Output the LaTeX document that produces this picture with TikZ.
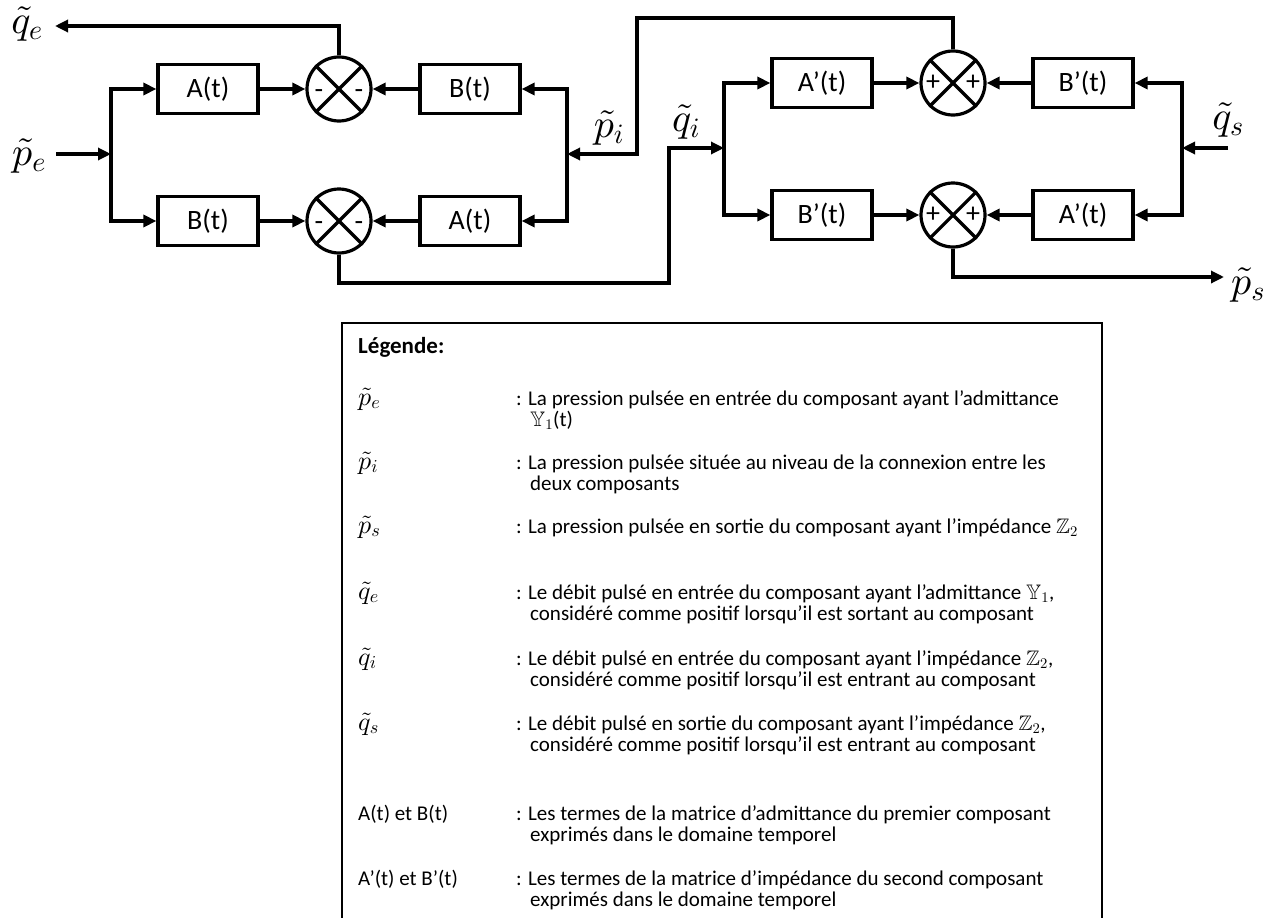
\documentclass[tikz,border=0pt]{standalone}
\usepackage{amsmath}
\usepackage{amssymb}
\usepackage[no-math]{fontspec}
\setmainfont{Carlito}
\DeclareFontShape{OML}{cmm}{m}{it}{<->cmmi10}{\skewchar\font'177}
\DeclareFontShape{OMS}{cmsy}{m}{n}{<->cmsy10}{\skewchar\font'60}
\DeclareFontShape{OT1}{cmr}{m}{n}{<->cmr10}{}
\usepackage{tikz}
\usetikzlibrary{arrows.meta}
\newcommand{\boxfont}{\fontsize{28}{32}\selectfont}
\newcommand{\sigfont}{\fontsize{40}{44}\selectfont}
\newcommand{\legendfont}{\fontsize{21}{21}\selectfont}
\newcommand{\legendsym}{\fontsize{26}{26}\selectfont}
\newcommand{\legendhead}{\fontsize{23}{26}\selectfont\bfseries}
\tikzset{
  wire/.style={line width=3.2pt, line join=miter},
  flow/.style={wire, -{Triangle[length=13pt,width=12pt]}},
  gain box/.style={draw, line width=3.2pt, minimum width=100pt,
    minimum height=49pt, inner sep=0pt, font=\boxfont},
  sum node/.style={circle, draw, line width=3.2pt, minimum size=64pt,
    inner sep=0pt},
  sign/.style={font=\boxfont, inner sep=0pt},
  minus sign/.style={sign, yshift=-5pt},
  signal label/.style={font=\sigfont, inner sep=2pt},
  legend frame/.style={line width=1.8pt},
  legend text/.style={anchor=base west, align=left, font=\legendfont,
    inner sep=0pt},
  legend symbol/.style={legend text, font=\legendsym}
}

\begin{document}
\begin{tikzpicture}[x=1pt, y=-1pt]
  \useasboundingbox (0,0) rectangle (1280,918);
  % first component (admittance)
  \node[gain box] (A1) at (208,89) {A(t)};
  \node[gain box] (B1) at (470,89) {B(t)};
  \node[gain box] (B2) at (208,221) {B(t)};
  \node[gain box] (A2) at (470,221) {A(t)};
  \node[sum node] (S1) at (339,89) {};
  \node[sum node] (S2) at (339,221) {};
  % second component (impedance)
  \node[gain box] (A3) at (822,83) {A’(t)};
  \node[gain box] (B3) at (1083,83) {B’(t)};
  \node[gain box] (B4) at (822,215) {B’(t)};
  \node[gain box] (A4) at (1083,215) {A’(t)};
  \node[sum node] (S3) at (953,83) {};
  \node[sum node] (S4) at (953,215) {};
  \foreach \s in {S1,S2,S3,S4} {
    \draw[wire] (\s.north west) -- (\s.south east);
    \draw[wire] (\s.north east) -- (\s.south west);
  }
  \node[minus sign, xshift=-20pt] at (S1) {-}; \node[minus sign, xshift=20pt] at (S1) {-};
  \node[minus sign, xshift=-20pt] at (S2) {-}; \node[minus sign, xshift=20pt] at (S2) {-};
  \node[sign, xshift=-20pt] at (S3) {+}; \node[sign, xshift=20pt] at (S3) {+};
  \node[sign, xshift=-20pt] at (S4) {+}; \node[sign, xshift=20pt] at (S4) {+};
  % signals
  \node[signal label] (qe) at (27,24) {$\tilde{q}_e$};
  \node[signal label] (pe) at (29,156) {$\tilde{p}_e$};
  \node[signal label] (pi) at (609,128) {$\tilde{p}_i$};
  \node[signal label] (qi) at (686,122) {$\tilde{q}_i$};
  \node[signal label] (qs) at (1228,120) {$\tilde{q}_s$};
  \node[signal label] (ps) at (1248,285) {$\tilde{p}_s$};
  \coordinate (qeout) at (55,26);
  \coordinate (pein) at (56,154);
  \coordinate (jL) at (111,154);
  \coordinate (jR) at (567,154);
  \coordinate (kp) at (637,18);
  \coordinate (kq) at (669,283);
  \coordinate (jRR) at (724,148);
  \coordinate (jS) at (1182,148);
  \coordinate (qsin) at (1228,148);
  \coordinate (psout) at (1224,277);
  \draw[flow] (pein) -- (jL);
  \draw[flow] (jL) |- (A1); \draw[flow] (jL) |- (B2);
  \draw[flow] (A1) -- (S1); \draw[flow] (B2) -- (S2);
  \draw[flow] (B1) -- (S1); \draw[flow] (A2) -- (S2);
  \draw[flow] (jR) |- (B1); \draw[flow] (jR) |- (A2);
  \draw[flow] (S1.north) |- (qeout);
  \draw[flow] (S3.north) |- (kp) |- (jR);
  \draw[flow] (S2.south) |- (kq) |- (jRR);
  \draw[flow] (jRR) |- (A3); \draw[flow] (jRR) |- (B4);
  \draw[flow] (A3) -- (S3); \draw[flow] (B4) -- (S4);
  \draw[flow] (B3) -- (S3); \draw[flow] (A4) -- (S4);
  \draw[flow] (qsin) -- (jS);
  \draw[flow] (jS) |- (B3); \draw[flow] (jS) |- (A4);
  \draw[flow] (S4.south) |- (psout);
  % legend (two-line entries sit on their last baseline)
  \draw[legend frame] (342,930) -- (342,323) -- (1102,323) -- (1102,930);
  \node[legend text, font=\legendhead] (lghead) at (358,353) {Légende:};
  \node[legend symbol] (lsym1) at (358,405) {$\tilde{p}_e$};
  \node[legend text] (ltxt1) at (516,426)
    {: La pression pulsée en entrée du composant ayant l’admittance\\
     \hspace*{14pt}$\mathbb{Y}_1$(t)};
  \node[legend symbol] (lsym2) at (358,469) {$\tilde{p}_i$};
  \node[legend text] (ltxt2) at (516,490)
    {: La pression pulsée située au niveau de la connexion entre les\\
     \hspace*{14pt}deux composants};
  \node[legend symbol] (lsym3) at (358,533) {$\tilde{p}_s$};
  \node[legend text] (ltxt3) at (516,533)
    {: La pression pulsée en sortie du composant ayant l’impédance $\mathbb{Z}_2$};
  \node[legend symbol] (lsym4) at (358,599) {$\tilde{q}_e$};
  \node[legend text] (ltxt4) at (516,620)
    {: Le débit pulsé en entrée du composant ayant l’admittance $\mathbb{Y}_1$,\\
     \hspace*{14pt}considéré comme positif lorsqu’il est sortant au composant};
  \node[legend symbol] (lsym5) at (358,665) {$\tilde{q}_i$};
  \node[legend text] (ltxt5) at (516,686)
    {: Le débit pulsé en entrée du composant ayant l’impédance $\mathbb{Z}_2$,\\
     \hspace*{14pt}considéré comme positif lorsqu’il est entrant au composant};
  \node[legend symbol] (lsym6) at (358,730) {$\tilde{q}_s$};
  \node[legend text] (ltxt6) at (516,751)
    {: Le débit pulsé en sortie du composant ayant l’impédance $\mathbb{Z}_2$,\\
     \hspace*{14pt}considéré comme positif lorsqu’il est entrant au composant};
  \node[legend text] (lsym7) at (358,820) {A(t) et B(t)};
  \node[legend text] (ltxt7) at (516,841)
    {: Les termes de la matrice d’admittance du premier composant\\
     \hspace*{14pt}exprimés dans le domaine temporel};
  \node[legend text] (lsym8) at (358,885) {A’(t) et B’(t)};
  \node[legend text] (ltxt8) at (516,906)
    {: Les termes de la matrice d’impédance du second composant\\
     \hspace*{14pt}exprimés dans le domaine temporel};
\end{tikzpicture}
\end{document}
